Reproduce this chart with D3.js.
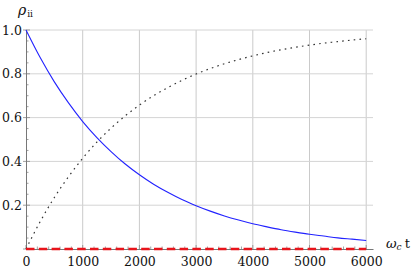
<!DOCTYPE html>
<html>
<head>
<meta charset="utf-8">
<script src="https://cdn.jsdelivr.net/npm/d3@7"></script>
<style>
  body { margin: 0; background: #fff; }
</style>
</head>
<body>
<svg id="chart" width="415" height="271"></svg>
<script>
// time samples (omega_c t)
let times = [0, 250, 500, 750, 1000, 1250, 1500, 1750, 2000, 2250, 2500, 2750, 3000,
             3250, 3500, 3750, 4000, 4250, 4500, 4750, 5000, 5250, 5500, 5750, 6000];
// rho_11 (blue, decaying)
let rhoBlue = [1.0, 0.874, 0.763, 0.667, 0.582, 0.509, 0.445, 0.388, 0.339, 0.296, 0.259, 0.226, 0.198,
               0.173, 0.151, 0.132, 0.115, 0.101, 0.088, 0.077, 0.067, 0.059, 0.051, 0.045, 0.039];
// rho_22 (black dotted, growing)
let rhoDotted = [0.0, 0.125, 0.235, 0.330, 0.414, 0.488, 0.552, 0.608, 0.657, 0.700, 0.737, 0.770, 0.799,
                 0.824, 0.846, 0.865, 0.882, 0.897, 0.910, 0.921, 0.931, 0.940, 0.947, 0.954, 0.960];
// rho_33 (red dashed, stays at zero)
let rhoRed = [0, 0, 0, 0, 0, 0, 0, 0, 0, 0, 0, 0, 0, 0, 0, 0, 0, 0, 0, 0, 0, 0, 0, 0, 0];

let xTicks = [0, 1000, 2000, 3000, 4000, 5000, 6000];
let yTicks = [0.2, 0.4, 0.6, 0.8, 1.0];
const serif = "'DejaVu Serif', 'Liberation Serif', serif";

const svg = d3.select("#chart");
const x = d3.scaleLinear().domain([0, 6120]).range([26, 373]);
const y = d3.scaleLinear().domain([0, 1]).range([249, 30]);

// grid
const grid = svg.append("g").attr("class", "grid");
grid.selectAll("line.v").data(xTicks.slice(1)).enter().append("line")
    .attr("x1", d => x(d)).attr("x2", d => x(d))
    .attr("y1", y(0)).attr("y2", y(1))
    .attr("stroke", "#cacaca").attr("stroke-width", 1);
grid.selectAll("line.h").data(yTicks).enter().append("line")
    .attr("x1", x(0)).attr("x2", x(6120))
    .attr("y1", d => y(d)).attr("y2", d => y(d))
    .attr("stroke", "#d4d4d4").attr("stroke-width", 1);

// minor ticks
let xMinor = d3.range(0, 6001, 200);
let yMinor = d3.range(0, 1.0001, 0.05);
svg.append("g").selectAll("line").data(xMinor).enter().append("line")
    .attr("x1", d => x(d)).attr("x2", d => x(d))
    .attr("y1", y(0)).attr("y2", d => y(0) - (d % 1000 === 0 ? 4 : 2.5))
    .attr("stroke", "#888").attr("stroke-width", 0.8);
svg.append("g").selectAll("line").data(yMinor).enter().append("line")
    .attr("y1", d => y(d)).attr("y2", d => y(d))
    .attr("x1", d => Math.abs(d * 5 - Math.round(d * 5)) < 1e-6 ? x(0) - 3 : x(0))
    .attr("x2", d => x(0) + (Math.abs(d * 5 - Math.round(d * 5)) < 1e-6 ? 4 : 2.5))
    .attr("stroke", "#888").attr("stroke-width", 0.8);

// axes
const xAxis = svg.append("g").attr("transform", "translate(0," + y(0) + ")")
    .call(d3.axisBottom(x).tickValues(xTicks).tickSize(0).tickPadding(8).tickFormat(d3.format("d")));
const yAxis = svg.append("g").attr("transform", "translate(" + x(0) + ",0)")
    .call(d3.axisLeft(y).tickValues(yTicks).tickSize(0).tickPadding(4).tickFormat(d3.format(".1f")));
[xAxis, yAxis].forEach(a => {
    a.attr("font-family", serif).attr("font-size", 12.5);
    a.select(".domain").attr("stroke", "#777").attr("stroke-width", 1);
    a.selectAll("text").attr("fill", "#111");
});

// curves
const line = (vals) => d3.line().x((d, i) => x(times[i])).y(d => y(d)).curve(d3.curveMonotoneX)(vals);

svg.append("path").attr("d", line(rhoBlue))
    .attr("fill", "none").attr("stroke", "#2222ff").attr("stroke-width", 1.1);
svg.append("path").attr("d", line(rhoDotted))
    .attr("fill", "none").attr("stroke", "#333").attr("stroke-width", 1.2)
    .attr("stroke-dasharray", "1.6,4.2");
svg.append("path").attr("d", line(rhoRed))
    .attr("fill", "none").attr("stroke", "#e8141b").attr("stroke-width", 2.4)
    .attr("stroke-dasharray", "8.5,4.3");

// axis labels
const yl = svg.append("text").attr("x", 18).attr("y", 15).attr("font-size", 14)
    .attr("font-family", serif).attr("fill", "#111");
yl.append("tspan").attr("font-style", "italic").text("ρ");
yl.append("tspan").attr("font-size", 9).attr("dy", 2).attr("dx", 1).text("ii");

const xl = svg.append("text").attr("x", 386).attr("y", 248).attr("font-size", 13)
    .attr("font-family", serif).attr("fill", "#111");
xl.append("tspan").attr("font-style", "italic").text("ω");
xl.append("tspan").attr("font-style", "italic").attr("font-size", 9).attr("dy", 2).text("c");
xl.append("tspan").attr("dy", -2).attr("dx", 3).text("t");
</script>
</body>
</html>
